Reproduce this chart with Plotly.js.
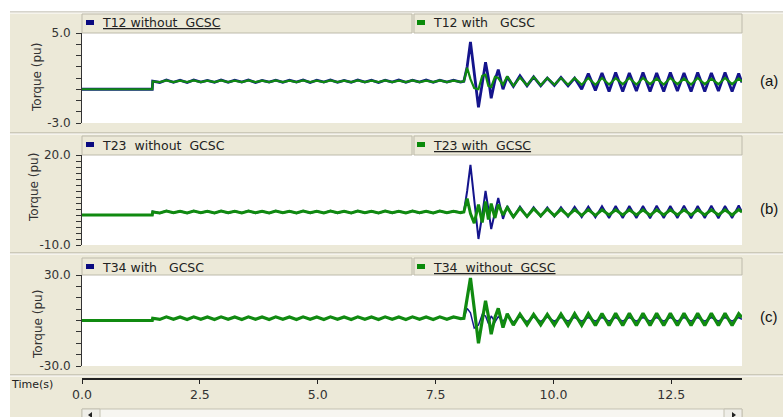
<!DOCTYPE html>
<html>
<head>
<meta charset="utf-8">
<script src="https://cdn.plot.ly/plotly-3.0.1.min.js"></script>
<style>html,body{margin:0;padding:0;background:#fff;}#chart{width:783px;height:417px;}</style>
</head>
<body>
<div id="chart"></div>
<script>
// ---- data ----
const TIME = [
 0.00, 1.49,
 1.50, 1.65, 1.79, 1.94, 2.08, 2.23, 2.37, 2.52, 2.66, 2.81,
 2.95, 3.10, 3.24, 3.39, 3.53, 3.68, 3.82, 3.97, 4.11, 4.26,
 4.40, 4.55, 4.69, 4.84, 4.98, 5.13, 5.27, 5.42, 5.56, 5.71,
 5.85, 6.00, 6.14, 6.29, 6.43, 6.58, 6.72, 6.87, 7.01, 7.16,
 7.30, 7.45, 7.59, 7.74, 7.88, 8.03,
 8.10, 8.17, 8.24, 8.32, 8.41, 8.49, 8.56, 8.62, 8.68, 8.76, 8.83, 8.93,
 9.02, 9.15, 9.29, 9.44, 9.58, 9.73, 9.87, 10.02, 10.16, 10.31,
 10.45, 10.60, 10.74, 10.89, 11.03, 11.18, 11.32, 11.47, 11.61, 11.76,
 11.90, 12.05, 12.19, 12.34, 12.48, 12.63, 12.77, 12.92, 13.06, 13.21,
 13.35, 13.50, 13.64, 13.79, 13.93, 14.00
];

// (a) T12
const T12_WITHOUT = [
 0.00, 0.00,
 0.72, 0.60, 0.82, 0.62, 0.80, 0.60, 0.83, 0.63, 0.79, 0.61,
 0.82, 0.62, 0.80, 0.63, 0.83, 0.60, 0.79, 0.63, 0.81, 0.61,
 0.80, 0.63, 0.83, 0.60, 0.80, 0.63, 0.82, 0.62, 0.79, 0.61,
 0.83, 0.63, 0.80, 0.60, 0.81, 0.63, 0.82, 0.61, 0.80, 0.63,
 0.83, 0.62, 0.80, 0.63, 0.81, 0.64,
 0.70, 2.00, 4.20, 1.50, -1.60, 0.50, 2.40, 1.00, -0.80, 0.80, 1.75, 0.00,
 1.10, 0.25, 1.20, 0.30, 1.10, 0.30, 1.00, 0.35, 1.05, 0.30,
 1.00, 0.00, 1.40, -0.10, 1.45, -0.20, 1.50, -0.20, 1.45, -0.15,
 1.50, -0.20, 1.45, -0.20, 1.50, -0.15, 1.45, -0.20, 1.50, -0.20,
 1.45, -0.15, 1.50, -0.20, 1.40, 0.60
];
const T12_WITH = [
 0.00, 0.00,
 0.70, 0.63, 0.78, 0.64, 0.77, 0.63, 0.79, 0.64, 0.77, 0.63,
 0.78, 0.64, 0.77, 0.63, 0.79, 0.64, 0.77, 0.63, 0.78, 0.64,
 0.77, 0.63, 0.79, 0.64, 0.77, 0.63, 0.78, 0.64, 0.77, 0.63,
 0.79, 0.64, 0.77, 0.63, 0.78, 0.64, 0.77, 0.63, 0.79, 0.64,
 0.77, 0.63, 0.78, 0.64, 0.77, 0.66,
 0.70, 1.90, 0.90, 0.10, 0.00, 1.20, 1.30, 0.30, 0.20, 1.10, 1.00, 0.40,
 1.15, 0.30, 1.05, 0.35, 1.10, 0.35, 1.00, 0.40, 1.00, 0.40,
 1.00, 0.40, 1.00, 0.40, 1.00, 0.42, 0.98, 0.45, 1.00, 0.42,
 1.00, 0.45, 0.95, 0.42, 1.00, 0.45, 0.95, 0.42, 1.00, 0.45,
 0.95, 0.45, 1.00, 0.45, 0.95, 0.70
];

// (b) T23
const T23_WITHOUT = [
 0.00, 0.00,
 1.20, 0.60, 1.40, 0.70, 1.30, 0.60, 1.40, 0.70, 1.30, 0.60,
 1.40, 0.60, 1.30, 0.70, 1.40, 0.60, 1.30, 0.60, 1.40, 0.70,
 1.30, 0.60, 1.40, 0.60, 1.30, 0.70, 1.40, 0.60, 1.30, 0.60,
 1.40, 0.70, 1.30, 0.60, 1.40, 0.60, 1.30, 0.70, 1.40, 0.60,
 1.30, 0.60, 1.40, 0.70, 1.30, 0.80,
 1.00, 8.00, 16.70, 5.00, -8.00, 0.00, 8.00, 2.00, -4.70, 1.00, 5.70, -1.30,
 3.00, -0.80, 2.80, -0.60, 2.60, -0.50, 2.50, -0.50, 2.60, -0.60,
 2.70, -0.70, 2.80, -0.80, 2.90, -1.00, 3.00, -1.00, 3.00, -1.00,
 3.00, -1.10, 3.10, -1.00, 3.00, -1.00, 3.10, -1.10, 3.00, -1.00,
 3.10, -1.10, 3.00, -1.00, 3.20, 1.00
];
const T23_WITH = [
 0.00, 0.00,
 1.00, 0.70, 1.30, 0.75, 1.25, 0.70, 1.30, 0.75, 1.25, 0.70,
 1.30, 0.75, 1.25, 0.70, 1.30, 0.75, 1.25, 0.70, 1.30, 0.75,
 1.25, 0.70, 1.30, 0.75, 1.25, 0.70, 1.30, 0.75, 1.25, 0.70,
 1.30, 0.75, 1.25, 0.70, 1.30, 0.75, 1.25, 0.70, 1.30, 0.75,
 1.25, 0.70, 1.30, 0.75, 1.25, 0.80,
 1.00, 5.50, 0.50, -2.70, 3.50, -2.50, 4.50, -1.50, 3.80, -1.00, 3.50, 0.00,
 2.50, -0.60, 2.30, -0.50, 2.10, -0.30, 2.00, -0.20, 1.90, -0.20,
 1.80, -0.10, 1.80, -0.10, 1.70, 0.00, 1.70, 0.00, 1.70, 0.00,
 1.70, -0.10, 1.70, 0.00, 1.70, 0.00, 1.70, 0.00, 1.70, 0.00,
 1.70, 0.00, 1.70, 0.00, 1.80, 1.00
];

// (c) T34
const T34_WITH = [
 0.00, 0.00,
 1.50, 0.80, 2.20, 0.90, 2.10, 0.80, 2.20, 0.90, 2.10, 0.80,
 2.20, 0.90, 2.10, 0.80, 2.20, 0.90, 2.10, 0.80, 2.20, 0.90,
 2.10, 0.80, 2.20, 0.90, 2.10, 0.80, 2.20, 0.90, 2.10, 0.80,
 2.20, 0.90, 2.10, 0.80, 2.20, 0.90, 2.10, 0.80, 2.20, 0.90,
 2.10, 0.80, 2.20, 0.90, 2.10, 1.20,
 1.50, 8.00, 5.00, -5.00, -3.00, 4.00, 3.00, -2.00, 3.00, -1.00, 2.50, -0.50,
 2.80, -1.00, 2.50, -0.80, 2.30, -0.60, 2.20, -0.50, 2.10, -0.50,
 2.00, -0.40, 2.00, -0.40, 2.00, -0.40, 2.00, -0.40, 2.00, -0.40,
 2.00, -0.40, 2.00, -0.40, 2.00, -0.40, 2.00, -0.40, 2.00, -0.40,
 2.00, -0.40, 2.00, -0.40, 2.00, 0.80
];
const T34_WITHOUT = [
 0.00, 0.00,
 1.50, 0.70, 2.40, 0.80, 2.30, 0.70, 2.40, 0.80, 2.30, 0.70,
 2.40, 0.80, 2.30, 0.70, 2.40, 0.80, 2.30, 0.70, 2.40, 0.80,
 2.30, 0.70, 2.40, 0.80, 2.30, 0.70, 2.40, 0.80, 2.30, 0.70,
 2.40, 0.80, 2.30, 0.70, 2.40, 0.80, 2.30, 0.70, 2.40, 0.80,
 2.30, 0.70, 2.40, 0.80, 2.30, 1.20,
 1.50, 15.00, 28.00, 8.00, -15.00, 0.00, 13.00, 3.00, -9.00, 2.00, 8.00, -4.70,
 4.50, -3.00, 4.20, -2.80, 4.00, -2.80, 4.00, -3.00, 4.20, -3.20,
 4.50, -3.20, 4.50, -3.30, 4.60, -3.30, 4.70, -3.30, 4.70, -3.30,
 4.70, -3.30, 4.70, -3.30, 4.70, -3.30, 4.70, -3.30, 4.70, -3.30,
 4.70, -3.30, 4.70, -3.30, 4.50, 2.00
];

// axis ticks
const X_TICKS = [0, 2.5, 5, 7.5, 10, 12.5];
const X_TICK_TEXT = ['0.0', '2.5', '5.0', '7.5', '10.0', '12.5'];
const YA_TICKS = [5, 4, 3, 2, 1, 0, -1, -2, -3];
const YA_TEXT = ['5.0', '', '', '', '', '', '', '', '-3.0'];
const YB_TICKS = [20, 18, 16, 14, 12, 10, 8, 6, 4, 2, 0, -2, -4, -6, -8, -10];
const YB_TEXT = ['20.0', '', '', '', '', '', '', '', '', '', '', '', '', '', '', '-10.0'];
const YC_TICKS = [30, 22.5, 15, 7.5, 0, -7.5, -15, -22.5, -30];
const YC_TEXT = ['30.0', '', '', '', '', '', '', '', '-30.0'];

// legend labels
const LEG_A = ['<u>T12 without&nbsp; GCSC</u>', 'T12 with&nbsp;&nbsp; GCSC'];
const LEG_B = ['T23&nbsp; without&nbsp; GCSC', '<u>T23 with&nbsp; GCSC</u>'];
const LEG_C = ['T34 with&nbsp;&nbsp; GCSC', '<u>T34&nbsp; without&nbsp; GCSC</u>'];
const LEG_COLORS = [['#0a0a80', '#0a8a0a'], ['#0a0a80', '#0a8a0a'], ['#0a0a80', '#0a8a0a']];
const PANEL_TAGS = ['(a)', '(b)', '(c)'];

// ---- layout geometry ----
const W = 783, H = 417, ML = 82, MR = 41;
const PW = W - ML - MR;
const fx = p => (p - ML) / PW;
const fy = p => 1 - p / H;

const BLUE = '#14148c', GREEN = '#108a10';
const FONT = 'DejaVu Sans, Verdana, sans-serif';
const FONT2 = 'Liberation Sans, Arial, sans-serif';

function tr(y, xa, ya, color, width) {
  return {x: TIME, y: y, xaxis: xa, yaxis: ya, type: 'scatter', mode: 'lines',
    line: {color: color, width: width, shape: 'linear'},
    hoverinfo: 'skip', showlegend: false};
}
const data = [
  tr(T12_WITHOUT, 'x', 'y', BLUE, 2.8),
  tr(T12_WITH, 'x', 'y', GREEN, 2.2),
  tr(T23_WITHOUT, 'x2', 'y2', BLUE, 2.0),
  tr(T23_WITH, 'x2', 'y2', GREEN, 3.0),
  tr(T34_WITH, 'x3', 'y3', BLUE, 1.5),
  tr(T34_WITHOUT, 'x3', 'y3', GREEN, 3.2)
];

const yCommon = {showgrid: false, zeroline: false, showline: true, linecolor: '#333', linewidth: 1,
  ticks: 'outside', ticklen: 5, tickcolor: '#333', tickwidth: 1, tickmode: 'array',
  tickfont: {family: FONT, size: 12, color: '#333'}, ticklabelstandoff: 3, fixedrange: true};
const xHidden = {range: [0, 14], visible: false, fixedrange: true};

const shapes = [];
const annotations = [];
function rect(x0, y0, x1, y1, fill, line, lw) {
  shapes.push({type: 'rect', xref: 'paper', yref: 'paper', x0: fx(x0), x1: fx(x1), y0: fy(y1), y1: fy(y0),
    fillcolor: fill, line: {color: line || fill, width: lw === undefined ? (line ? 1 : 0) : lw}, layer: 'below'});
}
function hline(y, x0, x1, color, w) {
  shapes.push({type: 'line', xref: 'paper', yref: 'paper', x0: fx(x0), x1: fx(x1), y0: fy(y), y1: fy(y),
    line: {color: color, width: w || 1}, layer: 'below'});
}
function text(t, x, y, opts) {
  annotations.push(Object.assign({text: t, xref: 'paper', yref: 'paper', x: fx(x), y: fy(y), showarrow: false,
    xanchor: 'left', yanchor: 'middle', font: {family: FONT, size: 12, color: '#222'}}, opts || {}));
}

// white page edges
rect(0, 0, W, 12, '#ffffff');
rect(0, 0, 10, H, '#ffffff');
// separators
[12, 133, 253, 375].forEach(y => { hline(y, 10, W, '#aca899', 1); hline(y + 1, 10, W, '#ffffff', 1); });

// header boxes + legends
const headers = [
  {top: 14, bottom: 33, cy: 23, leg: LEG_A, col: LEG_COLORS[0], tag: PANEL_TAGS[0], tagY: 80, titleY: 78, titleX: 37},
  {top: 136, bottom: 155, cy: 145, leg: LEG_B, col: LEG_COLORS[1], tag: PANEL_TAGS[1], tagY: 208, titleY: 188, titleX: 34},
  {top: 258, bottom: 275, cy: 267, leg: LEG_C, col: LEG_COLORS[2], tag: PANEL_TAGS[2], tagY: 316, titleY: 325, titleX: 38}
];
headers.forEach(h => {
  rect(82, h.top, 412, h.bottom, '#ece9d8', '#bdbaab', 1);
  rect(414, h.top, 742, h.bottom, '#ece9d8', '#bdbaab', 1);
  rect(86, h.cy - 3, 94, h.cy + 2, h.col[0]);
  rect(417, h.cy - 3, 425, h.cy + 2, h.col[1]);
  text(h.leg[0], 100, h.cy, {font: {family: FONT, size: 12.5, color: '#222'}});
  text(h.leg[1], 431, h.cy, {font: {family: FONT, size: 12.5, color: '#222'}});
  text(h.tag, 769, h.tagY, {xanchor: 'center', font: {family: FONT2, size: 15, color: '#111'}});
  text('Torque (pu)', h.titleX, h.titleY, {xanchor: 'center', textangle: -90, font: {family: FONT, size: 12, color: '#333'}});
});
text('Time(s)', 9, 384, {font: {family: FONT, size: 11, color: '#222'}});

// scrollbar
rect(82, 409, 742, 420, '#f7f6f1', '#c4c1b2', 1);
rect(82, 409, 100, 420, '#efeee8', '#c4c1b2', 1);
rect(724, 409, 742, 420, '#efeee8', '#c4c1b2', 1);
shapes.push({type: 'path', xref: 'paper', yref: 'paper', layer: 'above',
  path: `M ${fx(88)} ${fy(415)} L ${fx(92)} ${fy(412)} L ${fx(92)} ${fy(418)} Z`, fillcolor: '#222', line: {width: 0}});
shapes.push({type: 'path', xref: 'paper', yref: 'paper', layer: 'above',
  path: `M ${fx(736)} ${fy(415)} L ${fx(732)} ${fy(412)} L ${fx(732)} ${fy(418)} Z`, fillcolor: '#222', line: {width: 0}});

const layout = {
  width: W, height: H,
  margin: {l: ML, r: MR, t: 0, b: 0, pad: 0},
  paper_bgcolor: '#ece9d8', plot_bgcolor: '#ffffff',
  showlegend: false,
  xaxis: Object.assign({anchor: 'y'}, xHidden),
  xaxis2: Object.assign({anchor: 'y2'}, xHidden),
  xaxis3: {anchor: 'free', position: fy(378), range: [0, 14], showgrid: false, zeroline: false,
    showline: true, linecolor: '#222', linewidth: 1.5, ticks: 'outside', ticklen: 4, tickcolor: '#222',
    tickmode: 'array', tickvals: X_TICKS, ticktext: X_TICK_TEXT, fixedrange: true,
    tickfont: {family: FONT, size: 12.5, color: '#333'}},
  yaxis: Object.assign({}, yCommon, {anchor: 'x', domain: [fy(123), fy(33)], range: [-3, 5], tickvals: YA_TICKS, ticktext: YA_TEXT}),
  yaxis2: Object.assign({}, yCommon, {anchor: 'x2', domain: [fy(245), fy(155)], range: [-10, 20], tickvals: YB_TICKS, ticktext: YB_TEXT}),
  yaxis3: Object.assign({}, yCommon, {anchor: 'x3', domain: [fy(366), fy(275)], range: [-30, 30], tickvals: YC_TICKS, ticktext: YC_TEXT}),
  shapes: shapes,
  annotations: annotations
};

Plotly.newPlot('chart', data, layout, {displayModeBar: false, staticPlot: true});
</script>
</body>
</html>
